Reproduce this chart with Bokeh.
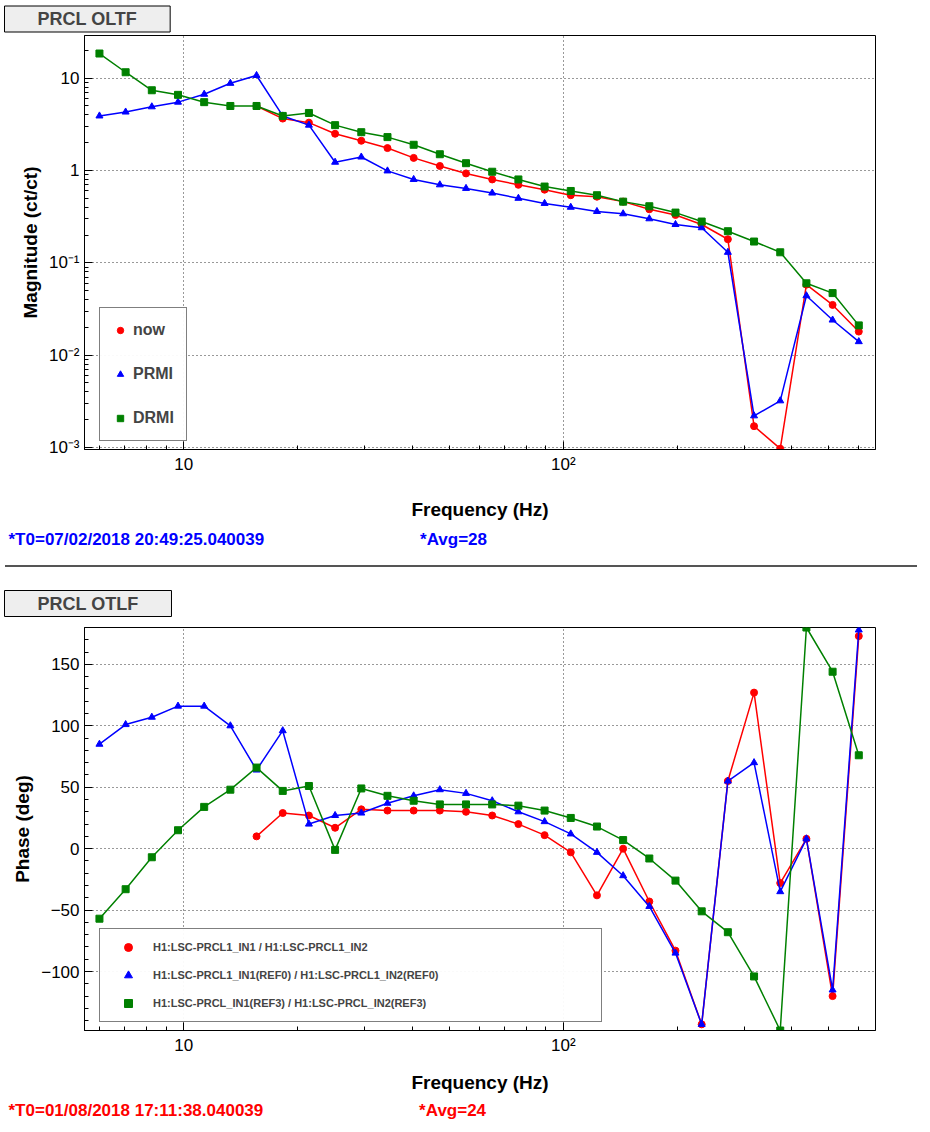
import numpy as np
from bokeh.plotting import figure
from bokeh.models import (FixedTicker, CustomJSTickFormatter, Title, Legend, LegendItem, Div, Range1d)
from bokeh.layouts import column
from bokeh.embed import file_html
from bokeh.resources import INLINE

freq = [6.0*10**(2*k/29) for k in range(30)]
mag_now = [5.0,3.65,3.3,2.5,2.1,1.75,1.37,1.12,0.93,0.8,0.7,0.62,0.54,0.52,0.46,0.38,0.33,0.26,0.18,0.0017,0.00097,0.058,0.035,0.018]
mag_prmi = [3.9,4.3,4.9,5.5,6.7,8.8,10.7,3.9,3.1,1.23,1.4,0.99,0.8,0.7,0.64,0.57,0.5,0.44,0.4,0.36,0.34,0.3,0.26,0.24,0.13,0.0022,0.0032,0.044,0.024,0.014]
mag_drmi = [18.5,11.6,7.4,6.6,5.5,5.0,5.0,3.9,4.2,3.1,2.6,2.3,1.9,1.5,1.2,0.97,0.8,0.67,0.6,0.54,0.46,0.41,0.35,0.28,0.22,0.17,0.13,0.06,0.047,0.021]
ph_now = [10,29,27,17,32,31,31,31,30,27,20,11,-3,-38,0,-43,-83,-143,55,127,-28,8,-120,173]
ph_prmi = [85,101,107,116,116,100,64,96,20,27,29,37,43,48,45,39,30,22,12,-3,-22,-47,-85,-143,55,70,-35,8,-115,178]
ph_drmi = [-57,-33,-7,15,34,48,66,47,51,-1,49,43,39,36,36,36,35,31,25,18,7,-8,-26,-51,-68,-104,-148,180,144,76]
f_now = freq[6:]

FONT = "Liberation Sans"
W = 912

def base(h, ylog, ylabel, top, bottom, xstand):
    kw = dict(y_axis_type="log") if ylog else {}
    p = figure(width=W, height=h, x_axis_type="log", output_backend="svg", toolbar_location=None,
               min_border_left=84, min_border_right=37, min_border_top=top, min_border_bottom=bottom, **kw)
    p.x_range = Range1d(5.48, 664)
    p.xaxis.ticker = FixedTicker(ticks=[10, 100], minor_ticks=[6,7,8,9,20,30,40,50,60,70,80,90,200,300,400,500,600])
    p.xaxis.formatter = CustomJSTickFormatter(code="return tick<50 ? '10' : '10\u00b2';")
    p.xaxis.axis_label = "Frequency (Hz)"
    p.xaxis.axis_label_standoff = xstand
    p.yaxis.axis_label = ylabel
    for ax in (p.xaxis, p.yaxis):
        ax.axis_label_text_font = FONT
        ax.axis_label_text_font_style = "bold"
        ax.axis_label_text_font_size = "19px"
        ax.axis_label_text_color = "black"
        ax.major_label_text_font = FONT
        ax.major_label_text_font_size = "17px"
        ax.major_label_text_color = "black"
        ax.major_tick_in = 8; ax.major_tick_out = 0
        ax.minor_tick_in = 4; ax.minor_tick_out = 0
        ax.axis_line_color = "black"
    p.grid.grid_line_color = "black"
    p.grid.grid_line_dash = "1 3"
    p.grid.grid_line_alpha = 0.8
    p.outline_line_color = "black"
    p.background_fill_color = "white"
    p.border_fill_color = "white"
    return p

GAP = "\u00a0" * 33
PAD = "\u00a0" * 6

def header(p, title, t0, avg, col, tstand, istand):
    p.add_layout(Title(text=PAD + title + PAD, align="left", offset=-80, text_font=FONT,
                       text_font_style="bold", text_font_size="18px", background_fill_color="#eeeeee",
                       border_line_color="black", padding=3, standoff=tstand), "above")
    p.add_layout(Title(text=t0 + GAP + avg, align="left", offset=-76, text_font=FONT,
                       text_font_style="bold", text_font_size="17px", text_color=col, standoff=istand), "below")

# ---- top
p1 = base(560, True, "Magnitude (ct/ct)", 31, 111, 22)
p1.y_range = Range1d(0.00095, 29)
p1.yaxis.ticker = FixedTicker(ticks=[0.001,0.01,0.1,1,10], minor_ticks=[a*10.0**e for e in range(-3,2) for a in range(2,10)])
p1.yaxis.formatter = CustomJSTickFormatter(code="""
const m={'-3':'10\u207b\u00b3','-2':'10\u207b\u00b2','-1':'10\u207b\u00b9','0':'1','1':'10'};
return m[String(Math.round(Math.log10(tick)))];""")
p1.line(f_now, mag_now, color="red", line_width=1.5)
s1 = p1.scatter(f_now, mag_now, color="red", marker="circle", size=7)
p1.line(freq, mag_prmi, color="blue", line_width=1.5)
s2 = p1.scatter(freq, mag_prmi, color="blue", marker="triangle", size=7)
p1.line(freq, mag_drmi, color="green", line_width=1.5)
s3 = p1.scatter(freq, mag_drmi, color="green", marker="square", size=7)
leg1 = Legend(items=[LegendItem(label="now", renderers=[s1]), LegendItem(label="PRMI", renderers=[s2]),
                     LegendItem(label="DRMI", renderers=[s3])], location=(15, 8))
leg1.label_text_font = FONT; leg1.label_text_font_style = "bold"; leg1.label_text_font_size = "16px"
leg1.spacing = 24; leg1.padding = 12; leg1.border_line_color = "black"; leg1.label_width = 40
leg1.glyph_width = 16
p1.add_layout(leg1, "center")
header(p1, "PRCL OLTF", "*T0=07/02/2018 20:49:25.040039", "*Avg=28", "blue", 7, 11)

# ---- bottom
p2 = base(555, False, "Phase (deg)", 55, 97, 14)
p2.y_range = Range1d(-148, 180)
p2.yaxis.ticker = FixedTicker(ticks=[-100,-50,0,50,100,150], minor_ticks=list(range(-140,181,10)))
p2.line(f_now, ph_now, color="red", line_width=1.5)
t1 = p2.scatter(f_now, ph_now, color="red", marker="circle", size=7)
p2.line(freq, ph_prmi, color="blue", line_width=1.5)
t2 = p2.scatter(freq, ph_prmi, color="blue", marker="triangle", size=7)
p2.line(freq, ph_drmi, color="green", line_width=1.5)
t3 = p2.scatter(freq, ph_drmi, color="green", marker="square", size=7)
leg2 = Legend(items=[LegendItem(label="H1:LSC-PRCL1_IN1 / H1:LSC-PRCL1_IN2", renderers=[t1]),
                     LegendItem(label="H1:LSC-PRCL1_IN1(REF0) / H1:LSC-PRCL1_IN2(REF0)", renderers=[t2]),
                     LegendItem(label="H1:LSC-PRCL_IN1(REF3) / H1:LSC-PRCL_IN2(REF3)", renderers=[t3])],
              location=(15, 8))
leg2.label_text_font = FONT; leg2.label_text_font_style = "bold"; leg2.label_text_font_size = "11px"
leg2.spacing = 8; leg2.padding = 8; leg2.border_line_color = "black"; leg2.label_width = 440
leg2.glyph_width = 40
p2.add_layout(leg2, "center")
header(p2, "PRCL OTLF", "*T0=01/08/2018 17:11:38.040039", "*Avg=24", "red", 22, 6)

sep = Div(width=W, height=2, styles={"background-color": "#555"})
lay = column(p1, sep, p2, spacing=0)
open("out.html", "w").write(file_html(lay, INLINE))
